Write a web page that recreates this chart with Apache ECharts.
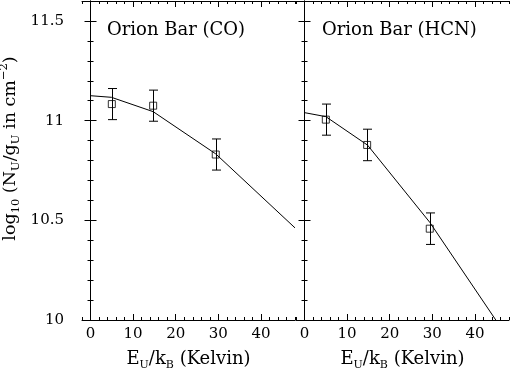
<!DOCTYPE html>
<html>
<head>
<meta charset="utf-8">
<script src="https://cdn.jsdelivr.net/npm/echarts@6/dist/echarts.min.js"></script>
<style>html,body{margin:0;padding:0;background:#fff}#c{width:510px;height:368px}</style>
</head>
<body>
<div id="c"></div>
<script>
// ---- data ----
const panelTitles = ['Orion Bar (CO)', 'Orion Bar (HCN)'];
const energyX = [5, 14.7, 29.4];
const coValues = [11.083, 11.075, 10.83];
const coErrors = [0.078, 0.078, 0.078];
const hcnValues = [11.005, 10.878, 10.458];
const hcnErrors = [0.078, 0.079, 0.079];
const coModelX = [0, 4.9, 14.7, 29.4, 48];
const coModelY = [11.125, 11.117, 11.045, 10.833, 10.462];
const hcnModelX = [0, 5, 14.8, 29.4, 48];
const hcnModelY = [11.04, 11.02, 10.877, 10.49, 9.902];
const xMajorTicks = [0, 10, 20, 30, 40];
const yMajorTicks = [10, 10.5, 11, 11.5];

const FONT = 'DejaVu Serif';
const X_MIN = -2, X_MAX = 48, Y_MIN = 10, Y_MAX = 11.6;

const chart = echarts.init(document.getElementById('c'), null, {renderer: 'canvas'});

const grids = [
  {left: 82, top: 1, width: 213, height: 319, outerBoundsMode: 'none', containLabel: false},
  {left: 296, top: 1, width: 213, height: 319, outerBoundsMode: 'none', containLabel: false}
];

const xAxes = [], yAxes = [];
grids.forEach((g, gi) => {
  ['bottom', 'top'].forEach(pos => {
    // major
    xAxes.push({
      type: 'value', gridIndex: gi, position: pos, min: X_MIN, max: X_MAX,
      axisLine: {show: true, lineStyle: {color: '#000', width: 1}},
      axisTick: {show: true, inside: true, length: 6, customValues: xMajorTicks, lineStyle: {color: '#000'}},
      axisLabel: {show: pos === 'bottom', customValues: xMajorTicks, margin: 7,
        fontFamily: FONT, fontSize: 15, color: '#000'},
      splitLine: {show: false},
      name: pos === 'bottom' ? 'E{sub|U}/k{sub|B} (Kelvin)' : '',
      nameLocation: 'middle', nameGap: 25,
      nameTextStyle: {fontFamily: FONT, fontSize: 18, color: '#000', lineHeight: 24,
        rich: {sub: {fontFamily: FONT, fontSize: 11, color: '#000', verticalAlign: 'bottom', lineHeight: 24}}}
    });
    // minor
    xAxes.push({
      type: 'value', gridIndex: gi, position: pos, min: X_MIN, max: X_MAX, interval: 2,
      axisLine: {show: false},
      axisTick: {show: true, inside: true, length: 3, lineStyle: {color: '#000'}},
      axisLabel: {show: false}, splitLine: {show: false}
    });
  });
  ['left', 'right'].forEach(pos => {
    const showLab = gi === 0 && pos === 'left';
    yAxes.push({
      type: 'value', gridIndex: gi, position: pos, min: Y_MIN, max: Y_MAX,
      axisLine: {show: true, lineStyle: {color: '#000', width: 1}},
      axisTick: {show: true, inside: true, length: 6, customValues: yMajorTicks, lineStyle: {color: '#000'}},
      axisLabel: {show: showLab, customValues: yMajorTicks, margin: 18,
        fontFamily: FONT, fontSize: 15, color: '#000'},
      splitLine: {show: false},
      name: showLab ? 'log{sub|10} (N{sub|U}/g{sub|U} in cm{sup|−2})' : '',
      nameLocation: 'middle', nameRotate: 90, nameGap: 60,
      nameTextStyle: {fontFamily: FONT, fontSize: 17.5, color: '#000', lineHeight: 24, padding: [0, 0, 0, 24],
        rich: {
          sub: {fontFamily: FONT, fontSize: 11.5, color: '#000', verticalAlign: 'bottom', lineHeight: 24},
          sup: {fontFamily: FONT, fontSize: 11.5, color: '#000', verticalAlign: 'top', lineHeight: 24}
        }}
    });
    yAxes.push({
      type: 'value', gridIndex: gi, position: pos, min: Y_MIN, max: Y_MAX, interval: 0.1,
      axisLine: {show: false},
      axisTick: {show: true, inside: true, length: 3, lineStyle: {color: '#000'}},
      axisLabel: {show: false}, splitLine: {show: false}
    });
  });
});

function errorBarRender(params, api) {
  const x = api.value(0), y = api.value(1), e = api.value(2);
  const top = api.coord([x, y + e]);
  const bot = api.coord([x, y - e]);
  const cx = Math.round(top[0]) + 0.5;
  const w = 4.5;
  const st = {stroke: '#000', lineWidth: 1};
  return {
    type: 'group',
    children: [
      {type: 'line', shape: {x1: cx, y1: top[1], x2: cx, y2: bot[1]}, style: st},
      {type: 'line', shape: {x1: cx - w, y1: top[1], x2: cx + w, y2: top[1]}, style: st},
      {type: 'line', shape: {x1: cx - w, y1: bot[1], x2: cx + w, y2: bot[1]}, style: st}
    ]
  };
}

const panels = [
  {vals: coValues, errs: coErrors, mx: coModelX, my: coModelY},
  {vals: hcnValues, errs: hcnErrors, mx: hcnModelX, my: hcnModelY}
];
const series = [];
panels.forEach((p, gi) => {
  const xi = gi * 4, yi = gi * 4;
  series.push({
    type: 'line', xAxisIndex: xi, yAxisIndex: yi, clip: true,
    data: p.mx.map((x, i) => [x, p.my[i]]),
    showSymbol: false, symbol: 'none',
    lineStyle: {color: '#000', width: 1}, silent: true
  });
  series.push({
    type: 'custom', xAxisIndex: xi, yAxisIndex: yi,
    data: energyX.map((x, i) => [x, p.vals[i], p.errs[i]]),
    encode: {x: 0, y: 1},
    renderItem: errorBarRender, silent: true
  });
  series.push({
    type: 'scatter', xAxisIndex: xi, yAxisIndex: yi,
    data: energyX.map((x, i) => [x, p.vals[i]]),
    symbol: 'rect', symbolSize: 7,
    itemStyle: {color: 'rgba(0,0,0,0)', borderColor: '#000', borderWidth: 1},
    silent: true
  });
});

chart.setOption({
  animation: false,
  backgroundColor: '#fff',
  title: panelTitles.map((t, i) => ({
    text: t, left: i === 0 ? 107 : 322, top: 21, padding: 0,
    textStyle: {fontFamily: FONT, fontSize: 18, fontWeight: 'normal', color: '#000'}
  })),
  grid: grids,
  xAxis: xAxes,
  yAxis: yAxes,
  series: series
});
</script>
</body>
</html>
